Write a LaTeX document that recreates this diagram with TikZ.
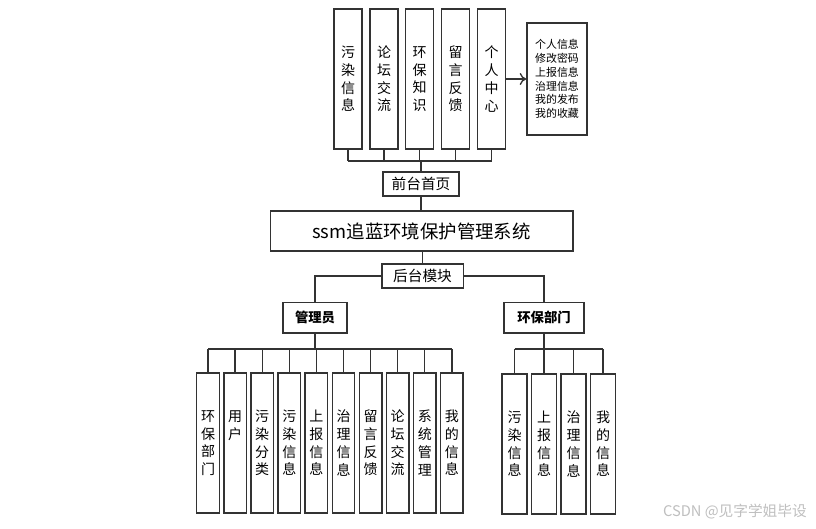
\documentclass[tikz,border=0pt]{standalone}
\usepackage{fontspec}
\setmainfont{Noto Sans CJK SC}
\usetikzlibrary{arrows.meta}
\tikzset{
  x=0.75pt, y=-0.75pt,
  box/.style={draw=black!80, line width=1pt, rectangle, inner sep=0pt, align=center},
  vcol/.style={box, minimum width=#1*0.75pt, font=\fontsize{10.5pt}{13.3pt}\selectfont},
  link/.style={draw=black!80, line width=1pt},
}
\begin{document}
\begin{tikzpicture}
\fill[white] (0,0) rectangle (816,528);
\useasboundingbox (0,0) rectangle (816,528);
% top boxes
\node[vcol=28, minimum height=105pt] (t1) at (348,79) {污\\染\\信\\息};
\node[vcol=28, minimum height=105pt] (t2) at (384,79) {论\\坛\\交\\流};
\node[vcol=28, minimum height=105pt] (t3) at (419.5,79) {环\\保\\知\\识};
\node[vcol=28, minimum height=105pt] (t4) at (455.5,79) {留\\言\\反\\馈};
\node[vcol=28, minimum height=105pt] (t5) at (491.5,79) {个\\人\\中\\心};
\node[box, minimum width=45pt, minimum height=84pt, font=\fontsize{8.2pt}{10.4pt}\selectfont] (pc) at (557,79)
  {个人信息\\修改密码\\上报信息\\治理信息\\我的发布\\我的收藏};
\draw[link, -{To[length=5pt,width=9pt]}] (t5.east) -- (pc.west);
% front page
\node[box, minimum width=57pt, minimum height=18pt, font=\fontsize{11pt}{13pt}\selectfont] (qt) at (421,184) {前台首页};
\coordinate (tb) at (420,161);
\foreach \n in {t1,t2,t3,t4,t5} \draw[link] (\n.south) -- (\n.south |- tb);
\draw[link] (t1.south |- tb) -- (t5.south |- tb);
\draw[link] (tb) -- (tb -| qt.north) -- (qt.north);
% main
\node[box, minimum width=227pt, minimum height=30pt, font=\fontsize{13.8pt}{16pt}\selectfont] (main) at (421.5,231) {ssm追蓝环境保护管理系统};
\draw[link] (qt.south) -- (qt.south |- main.north);
% back
\node[box, minimum width=61pt, minimum height=18pt, font=\fontsize{11pt}{13pt}\selectfont] (ht) at (422.5,276) {后台模块};
\draw[link] (main.south -| ht.north) -- (ht.north);
\node[box, minimum width=48pt, minimum height=23pt, font=\fontsize{10pt}{12pt}\selectfont\bfseries] (gl) at (315,317.5) {管理员};
\node[box, minimum width=60pt, minimum height=23pt, font=\fontsize{10pt}{12pt}\selectfont\bfseries] (hb) at (544,317.5) {环保部门};
\draw[link] (ht.west) -- (ht.west -| gl.north) -- (gl.north);
\draw[link] (ht.east) -- (ht.east -| hb.north) -- (hb.north);
% admin children
\coordinate (ab) at (316,349);
\foreach \i/\x/\t in {1/208/{环\\保\\部\\门},2/235.1/{用\\户\\~\\~},3/262.2/{污\\染\\分\\类},4/289.3/{污\\染\\信\\息},5/316.4/{上\\报\\信\\息},6/343.5/{治\\理\\信\\息},7/370.6/{留\\言\\反\\馈},8/397.7/{论\\坛\\交\\流},9/424.8/{系\\统\\管\\理},10/451.9/{我\\的\\信\\息}}{
  \node[vcol=22.5, minimum height=105pt] (a\i) at (\x,443) {\t};
  \draw[link] (a\i.north) -- (a\i.north |- ab);
}
\draw[link] (a1.north |- ab) -- (a10.north |- ab);
\draw[link] (gl.south) -- (gl.south |- ab);
% dept children
\coordinate (db) at (544,349);
\foreach \i/\x/\t in {1/514.5/{污\\染\\信\\息},2/544/{上\\报\\信\\息},3/573.5/{治\\理\\信\\息},4/603/{我\\的\\信\\息}}{
  \node[vcol=25, minimum height=105pt] (d\i) at (\x,444) {\t};
  \draw[link] (d\i.north) -- (d\i.north |- db);
}
\draw[link] (d1.north |- db) -- (d4.north |- db);
\draw[link] (hb.south) -- (hb.south |- db);
% watermark
\node[text=black!25, font=\fontsize{11pt}{13pt}\selectfont, anchor=east, inner sep=0pt] (wm) at (807,512) {CSDN @见字学姐毕设};
\end{tikzpicture}
\end{document}
